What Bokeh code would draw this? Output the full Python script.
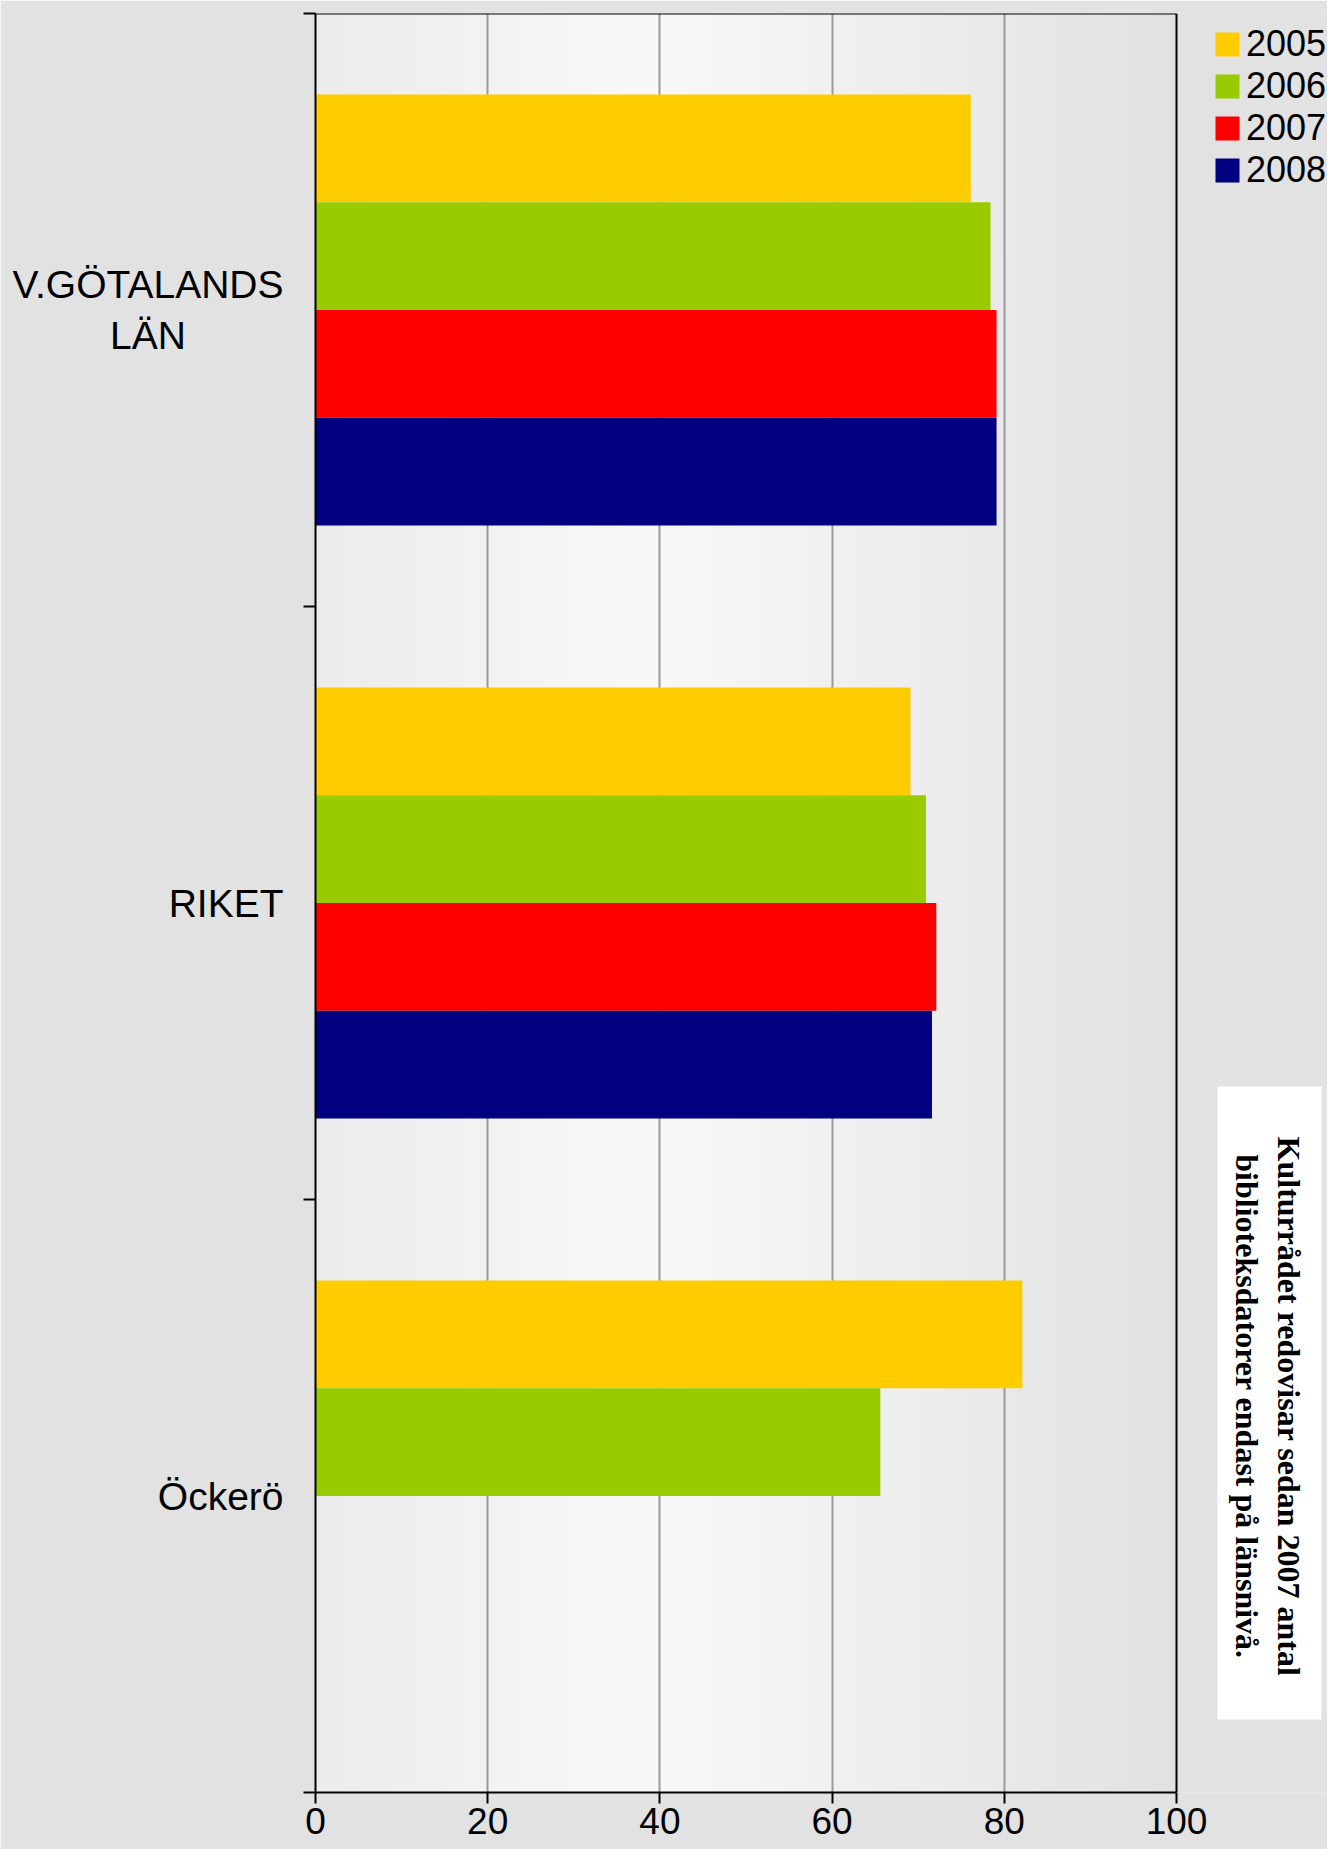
import math
import numpy as np
from bokeh.plotting import figure
from bokeh.models import (Range1d, FixedTicker, Label, Legend, LegendItem,
                          ColumnDataSource, BoxAnnotation)
from bokeh.embed import file_html
from bokeh.resources import INLINE

# ---------------- data ----------------
NB = "\u00a0"
categories = ["V.GÖTALANDS\nLÄN" + NB * 9, "RIKET", "Öckerö"]
years = ["2005", "2006", "2007", "2008"]
v2005 = [76.1, 69.1, 82.1]
v2006 = [78.4, 70.9, 65.6]
v2007 = [79.1, 72.1, float("nan")]
v2008 = [79.1, 71.6, float("nan")]
x_ticks = [0, 20, 40, 60, 80, 100]
note_lines = ["Kulturrådet redovisar sedan 2007 antal",
              "biblioteksdatorer endast på länsnivå."]

series = [v2005, v2006, v2007, v2008]
colors = ["#FFCC00", "#99CC00", "#FF0000", "#000080"]

SANS = "Liberation Sans"
SERIF = "Liberation Serif"
BG = "#e2e2e2"

# ---------------- layout (pixels) ----------------
W, H = 1327, 1849
LEFT, TOP, BOTTOM = 315, 13, 57
AXIS_PX = 861                       # pixel length of 0..100
x_min, x_max_axis = x_ticks[0], x_ticks[-1]
x_max = x_max_axis * (W - LEFT) / AXIS_PX   # frame reaches canvas edge

n_cat = len(categories)
p = figure(width=W, height=H,
           x_range=Range1d(x_min, x_max), y_range=Range1d(n_cat, 0),
           output_backend="svg", toolbar_location=None,
           min_border_left=LEFT, min_border_right=0,
           min_border_top=TOP, min_border_bottom=BOTTOM)
p.border_fill_color = BG
p.background_fill_color = BG
p.outline_line_color = None

# gradient background of plot area (0..100)
ng = 256
t = np.linspace(0, 1, ng)
g = np.interp(t, [0, 0.38, 1], [236, 249, 226]).astype(np.uint8)
img = np.zeros((1, ng), dtype=np.uint32)
view = img.view(dtype=np.uint8).reshape((1, ng, 4))
view[0, :, 0] = g
view[0, :, 1] = g
view[0, :, 2] = g
view[0, :, 3] = 255
p.image_rgba(image=[img], x=x_min, y=0, dw=x_max_axis - x_min, dh=n_cat, level="image")

# grid
p.ygrid.grid_line_color = None
p.xgrid.ticker = FixedTicker(ticks=x_ticks[1:-1])
p.xgrid.grid_line_color = "#9a9a9a"
p.xgrid.grid_line_width = 2

# bars
group_frac = 0.727
bar_h = group_frac / len(series)
centers = [i + 0.5 for i in range(n_cat)]
renderers = []
for k, (vals, col) in enumerate(zip(series, colors)):
    y = [c + (k - (len(series) - 1) / 2) * bar_h for c in centers]
    src = ColumnDataSource(dict(y=y, right=vals))
    r = p.hbar(y="y", left=0, right="right", height=bar_h, source=src,
               fill_color=col, line_color=None)
    renderers.append(r)

# plot-area border (top and right edges)
p.segment(x0=[x_min, x_max_axis], y0=[0, 0], x1=[x_max_axis, x_max_axis], y1=[0, n_cat],
          line_color="black", line_width=2)

# x axis
p.xaxis.bounds = (x_min, x_max_axis)
p.xaxis.ticker = FixedTicker(ticks=x_ticks)
p.xaxis.major_tick_out = 11
p.xaxis.major_tick_in = 0
p.xaxis.minor_tick_line_color = None
p.xaxis.axis_line_width = 2
p.xaxis.major_tick_line_width = 2
p.xaxis.axis_line_color = "black"
p.xaxis.major_tick_line_color = "black"
p.xaxis.major_label_standoff = 4
p.xaxis.major_label_text_font = SANS
p.xaxis.major_label_text_font_size = "37px"
p.xaxis.major_label_text_color = "black"

# y axis: labels at category centres, tick marks at category boundaries
bounds = list(range(n_cat + 1))
p.yaxis.ticker = FixedTicker(ticks=centers, minor_ticks=bounds)
p.yaxis.major_label_overrides = {c: lab for c, lab in zip(centers, categories)}
p.yaxis.major_tick_out = 0
p.yaxis.major_tick_in = 0
p.yaxis.minor_tick_out = 12
p.yaxis.minor_tick_in = 0
p.yaxis.minor_tick_line_color = "black"
p.yaxis.minor_tick_line_width = 2
p.yaxis.axis_line_width = 2
p.yaxis.axis_line_color = "black"
p.yaxis.major_label_standoff = 20
p.yaxis.major_label_text_font = SANS
p.yaxis.major_label_text_font_size = "39px"
p.yaxis.major_label_text_color = "black"

# legend
legend = Legend(items=[LegendItem(label=yr, renderers=[r]) for yr, r in zip(years, renderers)],
                location=(897, 1601))
legend.label_text_font = SANS
legend.label_text_font_size = "36px"
legend.label_text_color = "black"
legend.glyph_width = 30
legend.glyph_height = 30
legend.label_height = 30
legend.label_standoff = 4
legend.spacing = 0
legend.padding = 0
legend.margin = 0
legend.border_line_color = None
legend.background_fill_alpha = 0
p.add_layout(legend)

# note box
box = BoxAnnotation(left=902, right=1006, bottom=73, top=706,
                    left_units="screen", right_units="screen",
                    bottom_units="screen", top_units="screen",
                    fill_color="white", fill_alpha=1.0, line_color=None)
p.add_layout(box)
note_x = [973, 931]
for txt, nx in zip(note_lines, note_x):
    p.add_layout(Label(x=nx, y=386, x_units="screen", y_units="screen",
                       angle=-math.pi / 2, text=txt, text_align="center",
                       text_baseline="middle", text_font=SERIF,
                       text_font_style="bold", text_font_size="32px",
                       text_color="black"))

open("out.html", "w").write(file_html(p, INLINE))
